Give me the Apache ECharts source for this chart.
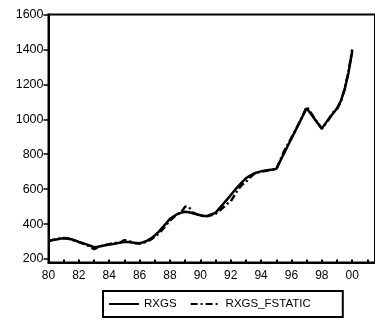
<!DOCTYPE html>
<html>
<head>
<meta charset="utf-8">
<script src="https://cdn.jsdelivr.net/npm/echarts@6/dist/echarts.min.js"></script>
<style>
  html, body { margin: 0; padding: 0; background: #fff; }
  #chart { width: 375px; height: 320px; }
</style>
</head>
<body>
<div id="chart"></div>
<script>
  // quarterly data, 1980Q1 .. 2000Q1
  const startYear = 1980
  const rxgs = [
    305, 308, 312, 316,
    319, 318, 313, 306,
    298, 291, 284, 276,
    268, 270, 274, 279,
    283, 286, 290, 294,
    297, 297, 294, 291,
    290, 296, 305, 318,
    335, 355, 380, 405,
    430, 445, 458, 466,
    471, 468, 462, 456,
    451, 446, 448, 456,
    465, 490, 515, 540,
    566, 592, 617, 640,
    662, 676, 688, 696,
    702, 706, 709, 712,
    716, 760, 803, 847,
    891, 934, 977, 1020,
    1063, 1035, 1005, 975,
    948, 978, 1008, 1035,
    1063, 1105, 1170, 1265,
    1390
  ]
  const rxgsFstatic = [
    305, 309, 314, 318,
    320, 317, 311, 304,
    297, 289, 280, 270,
    256, 266, 276, 281,
    285, 290, 292, 296,
    308, 305, 296, 290,
    289, 293, 300, 312,
    328, 345, 368, 395,
    420, 440, 455, 470,
    500, 498, 465, 457,
    450, 444, 446, 452,
    460, 475, 495, 515,
    530, 565, 600, 625,
    640, 665, 685, 695,
    700, 704, 708, 711,
    712, 765, 815, 855,
    895, 935, 978, 1022,
    1072, 1040, 1008, 976,
    945, 975, 1005, 1040,
    1060, 1100, 1175, 1270,
    1400
  ]
  const yTicks = [200, 400, 600, 800, 1000, 1200, 1400, 1600]

  const toPairs = arr => arr.map((v, i) => [startYear + i / 4, v])

  let myChart = echarts.init(document.getElementById('chart'))
  let font = 'Liberation Sans, Arial, sans-serif'
  let option = {
    animation: false,
    grid: {
      left: 48.5,
      right: -8,
      top: 14.5,
      bottom: 57.5,
      show: true,
      borderColor: '#000',
      borderWidth: 2
    },
    legend: {
      left: 103,
      top: 291,
      padding: [7, 32, 7, 5],
      borderColor: '#000',
      borderWidth: 2,
      itemWidth: 30,
      itemHeight: 14,
      itemGap: 13,
      itemStyle: { opacity: 0 },
      textStyle: { fontFamily: font, fontSize: 11.5, color: '#000' },
      data: ['RXGS', 'RXGS_FSTATIC']
    },
    xAxis: {
      type: 'value',
      min: 1980,
      max: 2001.5,
      interval: 1,
      axisLine: { lineStyle: { color: '#000', width: 2 } },
      axisTick: { inside: true, length: 3, lineStyle: { color: '#000', width: 2 } },
      splitLine: { show: false },
      axisLabel: {
        showMaxLabel: false,
        margin: 7,
        fontFamily: font,
        fontSize: 12,
        color: '#000',
        formatter: v => (v % 2 === 0 ? String(v).slice(2) : '')
      }
    },
    yAxis: {
      type: 'value',
      min: 180,
      max: 1600,
      axisLine: { show: true, lineStyle: { color: '#000', width: 2 } },
      axisTick: { show: true, length: 5, customValues: yTicks, lineStyle: { color: '#000', width: 1.5 } },
      splitLine: { show: false },
      axisLabel: {
        customValues: yTicks,
        margin: 5,
        fontFamily: font,
        fontSize: 12.5,
        color: '#000',
        formatter: v => String(v)
      }
    },
    series: [
      {
        name: 'RXGS',
        type: 'line',
        symbol: 'none',
        data: toPairs(rxgs),
        itemStyle: { color: '#000' },
        lineStyle: { color: '#000', width: 2.5 }
      },
      {
        name: 'RXGS_FSTATIC',
        type: 'line',
        symbol: 'none',
        data: toPairs(rxgsFstatic),
        itemStyle: { color: '#000' },
        lineStyle: { color: '#000', width: 2.5, type: [7, 3, 2, 3] }
      }
    ]
  }
  myChart.setOption(option)
</script>
</body>
</html>
